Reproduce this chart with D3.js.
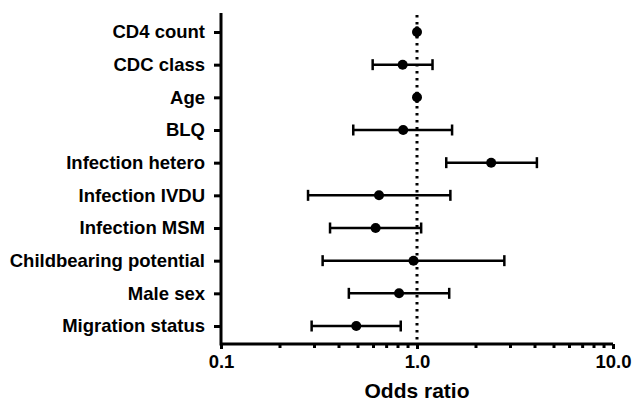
<!DOCTYPE html>
<html>
<head>
<meta charset="utf-8">
<script src="https://cdn.jsdelivr.net/npm/d3@7"></script>
<style>
  body { margin: 0; background: #fff; }
  text { font-family: "Liberation Sans", Arial, sans-serif; font-weight: bold; fill: #000; }
</style>
</head>
<body>
<div id="chart"></div>
<script>
// values
const labels = ["CD4 count", "CDC class", "Age", "BLQ", "Infection hetero", "Infection IVDU",
  "Infection MSM", "Childbearing potential", "Male sex", "Migration status"];
const oddsRatio = [1.0, 0.845, 1.0, 0.85, 2.39, 0.64, 0.615, 0.96, 0.81, 0.49];
const ciLow = [0.995, 0.594, 0.995, 0.473, 1.41, 0.278, 0.36, 0.33, 0.449, 0.29];
const ciHigh = [1.005, 1.2, 1.005, 1.51, 4.09, 1.48, 1.05, 2.79, 1.46, 0.826];
const xTicks = [0.1, 1, 10];
const xMinor = [0.2, 0.3, 0.4, 0.5, 0.6, 0.7, 0.8, 0.9, 2, 3, 4, 5, 6, 7, 8, 9];

const width = 632, height = 403;
const svg = d3.select("#chart").append("svg").attr("width", width).attr("height", height);

let x = d3.scaleLog().domain([0.1, 10]).range([221, 613]);
let y = d3.scalePoint().domain(labels).range([32, 326]);
const axisTop = 13, axisBottom = 344;

let rows = labels.map((d, i) => ({ name: d, or: oddsRatio[i], lo: ciLow[i], hi: ciHigh[i] }));

// reference line at OR = 1
svg.append("line")
  .attr("x1", x(1)).attr("x2", x(1))
  .attr("y1", axisTop + 2).attr("y2", axisBottom)
  .attr("stroke", "#000").attr("stroke-width", 3)
  .attr("stroke-dasharray", "2.5,4.5");

// y axis
let gy = svg.append("g").attr("transform", `translate(${x(0.1)},0)`)
  .call(d3.axisLeft(y).tickSize(7).tickPadding(9));
gy.select(".domain").remove();
gy.selectAll(".tick line").attr("stroke-width", 3);
gy.selectAll(".tick text").attr("font-size", "18.5px").style("font-family", "'Liberation Sans', Arial, sans-serif");
svg.append("line")
  .attr("x1", x(0.1)).attr("x2", x(0.1))
  .attr("y1", axisTop).attr("y2", axisBottom + 1.5)
  .attr("stroke", "#000").attr("stroke-width", 3);

// x axis
let gx = svg.append("g").attr("transform", `translate(0,${axisBottom})`)
  .call(d3.axisBottom(x).tickValues(xTicks).tickFormat(d3.format(".1f")).tickSize(5).tickPadding(6));
gx.select(".domain").attr("stroke-width", 3).attr("d", `M${x(0.1)},0H${x(10)}`);
gx.selectAll(".tick line").attr("stroke-width", 3);
gx.selectAll(".tick text").attr("font-size", "18.5px").style("font-family", "'Liberation Sans', Arial, sans-serif");
gx.selectAll(".minor").data(xMinor).join("line")
  .attr("class", "minor")
  .attr("x1", d => x(d)).attr("x2", d => x(d))
  .attr("y1", 0).attr("y2", 4)
  .attr("stroke", "#000").attr("stroke-width", 3);

svg.append("text")
  .attr("x", x(1)).attr("y", 398)
  .attr("text-anchor", "middle").attr("font-size", "21px")
  .text("Odds ratio");

// error bars
let g = svg.append("g");
g.selectAll(".bar").data(rows).join("line")
  .attr("class", "bar")
  .attr("x1", d => x(d.lo)).attr("x2", d => x(d.hi))
  .attr("y1", d => y(d.name)).attr("y2", d => y(d.name))
  .attr("stroke", "#000").attr("stroke-width", 2.5);
g.selectAll(".capl").data(rows).join("line")
  .attr("class", "capl")
  .attr("x1", d => x(d.lo)).attr("x2", d => x(d.lo))
  .attr("y1", d => y(d.name) - 5.5).attr("y2", d => y(d.name) + 5.5)
  .attr("stroke", "#000").attr("stroke-width", 2.5);
g.selectAll(".caph").data(rows).join("line")
  .attr("class", "caph")
  .attr("x1", d => x(d.hi)).attr("x2", d => x(d.hi))
  .attr("y1", d => y(d.name) - 5.5).attr("y2", d => y(d.name) + 5.5)
  .attr("stroke", "#000").attr("stroke-width", 2.5);
g.selectAll("circle").data(rows).join("circle")
  .attr("cx", d => x(d.or)).attr("cy", d => y(d.name))
  .attr("r", 5).attr("fill", "#000");
</script>
</body>
</html>
